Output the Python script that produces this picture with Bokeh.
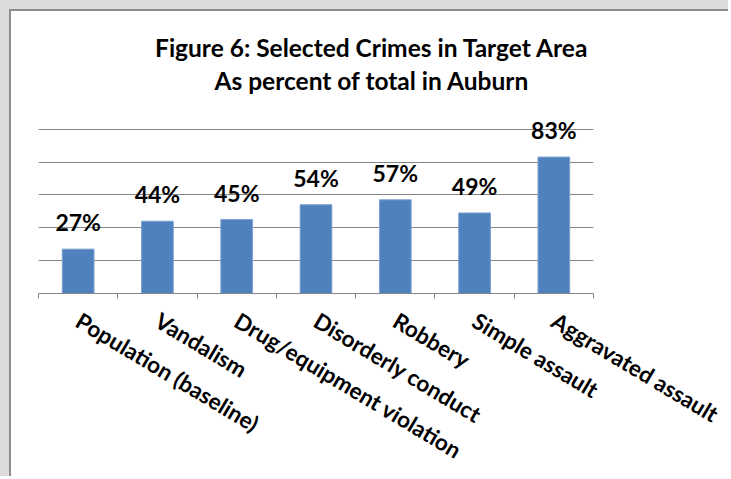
from bokeh.plotting import figure
from bokeh.models import Range1d, LinearAxis, FixedTicker
from bokeh.core.properties import value
from bokeh.embed import file_html
from bokeh.resources import INLINE

# ---- data ----
categories = ["Population (baseline)", "Vandalism", "Drug/equipment violation",
              "Disorderly conduct", "Robbery", "Simple assault", "Aggravated assault"]
percents = [27, 44, 45, 54, 57, 49, 83]
value_labels = [f"{v}%" for v in percents]
grid_ticks = [0, 20, 40, 60, 80, 100]
title_lines = ["Figure 6: Selected Crimes in Target Area", "As percent of total in Auburn"]

n = len(categories)
centers = [i + 0.5 for i in range(n)]
edges = list(range(n + 1))

FONT = "Lato"
W, H = 719, 467

p = figure(width=W, height=H, x_range=Range1d(0, n), y_range=Range1d(0, 171),
           output_backend="svg", toolbar_location=None,
           x_axis_location=None, y_axis_location=None,
           min_border_left=27, min_border_right=W - 27 - 555,
           min_border_top=1, min_border_bottom=H - 286)
p.title.text = ""
p.outline_line_color = None
p.background_fill_color = "white"
p.border_fill_color = "white"
p.xgrid.visible = False
p.ygrid.ticker = FixedTicker(ticks=grid_ticks, minor_ticks=[])
p.ygrid.grid_line_color = "#858585"
p.ygrid.grid_line_width = 1.2

# axis with tick marks at category boundaries
edge_axis = LinearAxis(ticker=FixedTicker(ticks=edges, minor_ticks=[]),
                       major_label_text_font_size="1px", major_label_text_color=None,
                       major_label_standoff=0,
                       major_tick_in=0, major_tick_out=5,
                       axis_line_color="#858585", axis_line_width=1.2,
                       major_tick_line_color="#858585", minor_tick_line_color=None)
p.add_layout(edge_axis, "below")

# category labels at bar centres
cat_axis = LinearAxis(ticker=FixedTicker(ticks=centers, minor_ticks=[]),
                      major_label_overrides={c: name for c, name in zip(centers, categories)},
                      axis_line_color=None, major_tick_line_color=None, minor_tick_line_color=None,
                      major_tick_in=0, major_tick_out=0,
                      major_label_orientation=-0.54,
                      major_label_standoff=20,
                      major_label_text_font=FONT,
                      major_label_text_font_style="bold",
                      major_label_text_font_size="22.5px",
                      major_label_text_color="black")
p.add_layout(cat_axis, "below")

p.vbar(x=centers, top=percents, width=0.4, bottom=0,
       fill_color="#4F81BD", line_color="#7ba0d2", line_width=1)

p.text(x=centers, y=percents, text=value_labels, y_offset=-27,
       text_align="center", text_baseline="alphabetic",
       text_font=value(FONT), text_font_style="bold", text_font_size="23px",
       text_color="black")

# chart title (two centred lines, drawn inside the tall frame)
title_x = [4.206, 4.206]
title_y = [150.0, 129.8]
p.text(x=title_x, y=title_y, text=title_lines,
       text_align="center", text_baseline="alphabetic",
       text_font=value(FONT), text_font_style="bold", text_font_size="24.5px",
       text_color="black")

p.styles = {"margin-left": "9px", "margin-top": "9px",
            "border-left": "2px solid #8c8c8c",
            "border-top": "2px solid #8c8c8c",
            "box-shadow": "-9px -9px 0 9px #dcdcdc"}

open("out.html", "w").write(file_html(p, INLINE))
